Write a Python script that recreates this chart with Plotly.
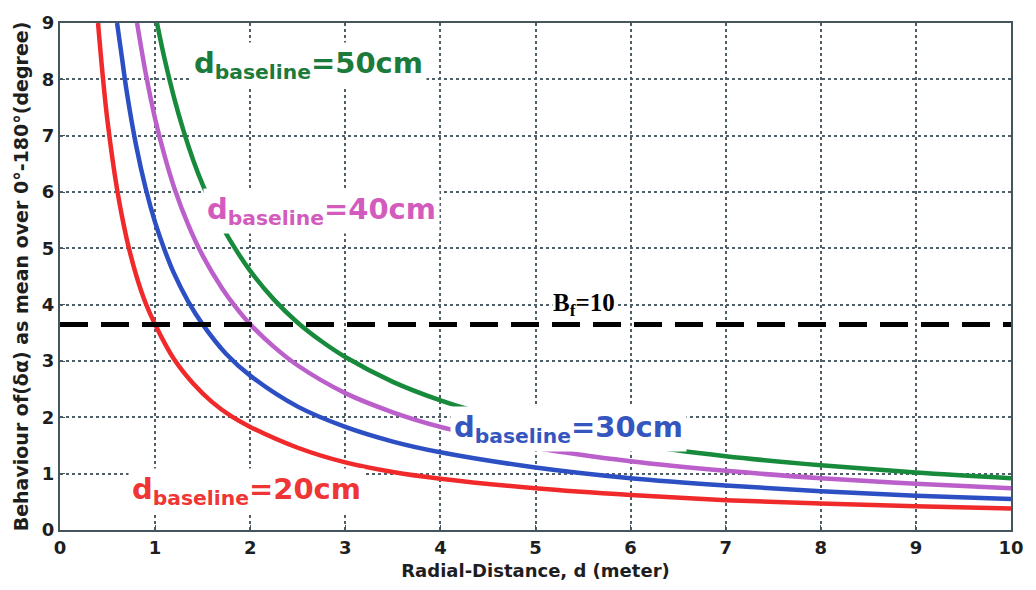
import plotly.graph_objects as go

# ---- data ----
x_20 = [0.40, 0.45, 0.50, 0.60, 0.70, 0.80, 0.90, 1.00, 1.20, 1.40, 1.60, 1.80, 2.00, 2.50, 3.00, 3.50, 4.00, 5.00, 6.00, 7.00, 8.00, 9.00, 10.0]
y_20 = [9.0, 8.05, 7.25, 6.05, 5.18, 4.53, 4.03, 3.65, 3.03, 2.6, 2.27, 2.02, 1.83, 1.46, 1.2, 1.03, 0.91, 0.74, 0.62, 0.53, 0.47, 0.42, 0.38]

x_30 = [0.60, 0.65, 0.70, 0.80, 0.90, 1.00, 1.10, 1.20, 1.35, 1.50, 1.75, 2.00, 2.50, 3.00, 3.50, 4.00, 5.00, 6.00, 7.00, 8.00, 9.00, 10.0]
y_30 = [9.0, 8.4, 7.8, 6.83, 6.07, 5.46, 4.97, 4.55, 4.05, 3.65, 3.12, 2.74, 2.19, 1.83, 1.57, 1.38, 1.11, 0.92, 0.79, 0.69, 0.61, 0.55]

x_40 = [0.81, 0.85, 0.90, 1.00, 1.10, 1.20, 1.35, 1.50, 1.70, 1.85, 2.00, 2.25, 2.50, 3.00, 3.50, 4.00, 4.50, 5.00, 6.00, 7.00, 8.00, 9.00, 10.0]
y_40 = [9.0, 8.6, 8.12, 7.3, 6.64, 6.08, 5.41, 4.87, 4.3, 3.95, 3.65, 3.25, 2.92, 2.43, 2.09, 1.83, 1.63, 1.46, 1.22, 1.05, 0.92, 0.82, 0.74]

x_50 = [1.02, 1.10, 1.20, 1.30, 1.40, 1.50, 1.60, 1.70, 1.80, 2.00, 2.25, 2.50, 2.75, 3.00, 3.50, 4.00, 4.30, 5.00, 6.00, 7.00, 8.00, 9.00, 10.0]
y_50 = [9.0, 8.36, 7.67, 7.08, 6.57, 6.13, 5.75, 5.41, 5.11, 4.6, 4.09, 3.68, 3.35, 3.07, 2.63, 2.3, 2.14, 1.84, 1.53, 1.31, 1.15, 1.02, 0.92]

bf_threshold = 3.65
bf_label = "B<sub>f</sub>=10"

series_names = ["d<sub>baseline</sub>=20cm", "d<sub>baseline</sub>=30cm",
                "d<sub>baseline</sub>=40cm", "d<sub>baseline</sub>=50cm"]
x_ticks = [0, 1, 2, 3, 4, 5, 6, 7, 8, 9, 10]
y_ticks = [0, 1, 2, 3, 4, 5, 6, 7, 8, 9]

line_colors = ["#f02a2a", "#2d4fc4", "#bb5fcb", "#178a3c"]
label_colors = ["#ef3535", "#3556bf", "#d35bbd", "#1c7a3a"]
label_pos = [(1.96, 0.70), (5.35, 1.80), (2.75, 5.66), (2.61, 8.25)]

fig = go.Figure()
for xs, ys, c in zip([x_20, x_30, x_40, x_50], [y_20, y_30, y_40, y_50], line_colors):
    fig.add_trace(go.Scatter(x=xs, y=ys, mode="lines", line=dict(color=c, width=4.5, shape="spline"),
                             showlegend=False, hoverinfo="skip"))

fig.add_shape(type="line", xref="x", yref="y", x0=0, x1=10, y0=bf_threshold, y1=bf_threshold,
              line=dict(color="black", width=5, dash="28px,13px"))

for name, col, (lx, ly) in zip(series_names, label_colors, label_pos):
    fig.add_annotation(x=lx, y=ly, text=name, showarrow=False, xanchor="center", yanchor="middle",
                       font=dict(family="DejaVu Sans", size=29, color=col, weight="bold"),
                       bgcolor="white", borderpad=3)

fig.add_annotation(x=5.51, y=4.0, text=bf_label, showarrow=False, xanchor="center", yanchor="middle",
                   font=dict(family="Liberation Serif", size=25, color="black", weight="bold"),
                   bgcolor="white", borderpad=0)

axis_common = dict(
    showline=True, mirror=True, linecolor="#45555c", linewidth=2,
    showgrid=True, gridcolor="#4f5f68", gridwidth=1.6, griddash="dot",
    ticks="inside", ticklen=5, tickcolor="#45555c", zeroline=False,
    tickfont=dict(family="DejaVu Sans", size=18, color="#1e1e1e", weight="bold"),
)

fig.update_xaxes(range=[0, 10], tickvals=x_ticks, **axis_common,
                 title=dict(text="Radial-Distance, d (meter)", standoff=8,
                            font=dict(family="DejaVu Sans", size=18, color="#1e1e1e", weight="bold")))
fig.update_yaxes(range=[0, 9], tickvals=y_ticks, **axis_common,
                 title=dict(text="Behaviour of(δα) as mean over 0°-180°(degree)", standoff=8,
                            font=dict(family="DejaVu Sans", size=19, color="#1e1e1e", weight="bold")))

fig.update_layout(
    width=1036, height=590,
    margin=dict(l=60, r=16, t=12, b=60),
    paper_bgcolor="white", plot_bgcolor="white",
)

fig.write_html("out.html")
